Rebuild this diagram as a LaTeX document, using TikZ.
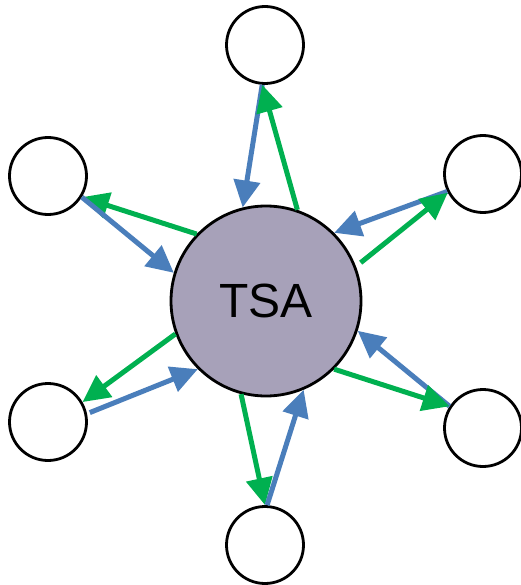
\documentclass[tikz,border=0pt]{standalone}
\usepackage{fontspec}
\setmainfont{Liberation Sans}
\usetikzlibrary{arrows.meta}
\definecolor{flowblue}{HTML}{4A7EBB}
\definecolor{flowgreen}{HTML}{00B050}
\definecolor{hubfill}{HTML}{A7A1B9}
\begin{document}
\begin{tikzpicture}[x=1pt,y=-1pt,
  hub/.style={circle,draw=black,line width=2.8pt,fill=hubfill,minimum size=190pt,inner sep=0pt,font=\fontsize{48}{48}\selectfont},
  leaf/.style={circle,draw=black,line width=2.8pt,fill=white,minimum size=77pt,inner sep=0pt},
  flow/.style={line width=5pt,-{Triangle[length=27pt,width=26pt]}},
  bflow/.style={flow,draw=flowblue,fill=flowblue},
  gflow/.style={flow,draw=flowgreen,fill=flowgreen}]
\useasboundingbox (0,0) rectangle (520,585);
\node[hub] (tsa) at (266,301) {TSA};
\node[leaf] (n) at (265,45) {};
\node[leaf] (nw) at (48,176) {};
\node[leaf] (ne) at (483,174) {};
\node[leaf] (sw) at (48,422) {};
\node[leaf] (se) at (483,428) {};
\node[leaf] (s) at (265,545) {};
% top
\draw[bflow] (n.266) -- (tsa.104);
\draw[gflow] (tsa.71) -- (n.266);
% upper left
\draw[gflow] (tsa.136) -- (nw.328);
\draw[bflow] (nw.328) -- (tsa.163);
% upper right
\draw[bflow] (ne.206) -- (tsa.45);
\draw[gflow,shorten <=6pt] (tsa.21) -- (ne.208);
% lower left
\draw[gflow] (tsa.200) -- (sw.30);
\draw[bflow,shorten <=3pt] (sw.12) -- (tsa.225);
% lower right
\draw[bflow] (se.147) -- (tsa.342);
\draw[gflow] (tsa.315) -- (se.147);
% bottom
\draw[gflow] (tsa.255) -- (s.90);
\draw[bflow] (s.87) -- (tsa.293);
\end{tikzpicture}
\end{document}
